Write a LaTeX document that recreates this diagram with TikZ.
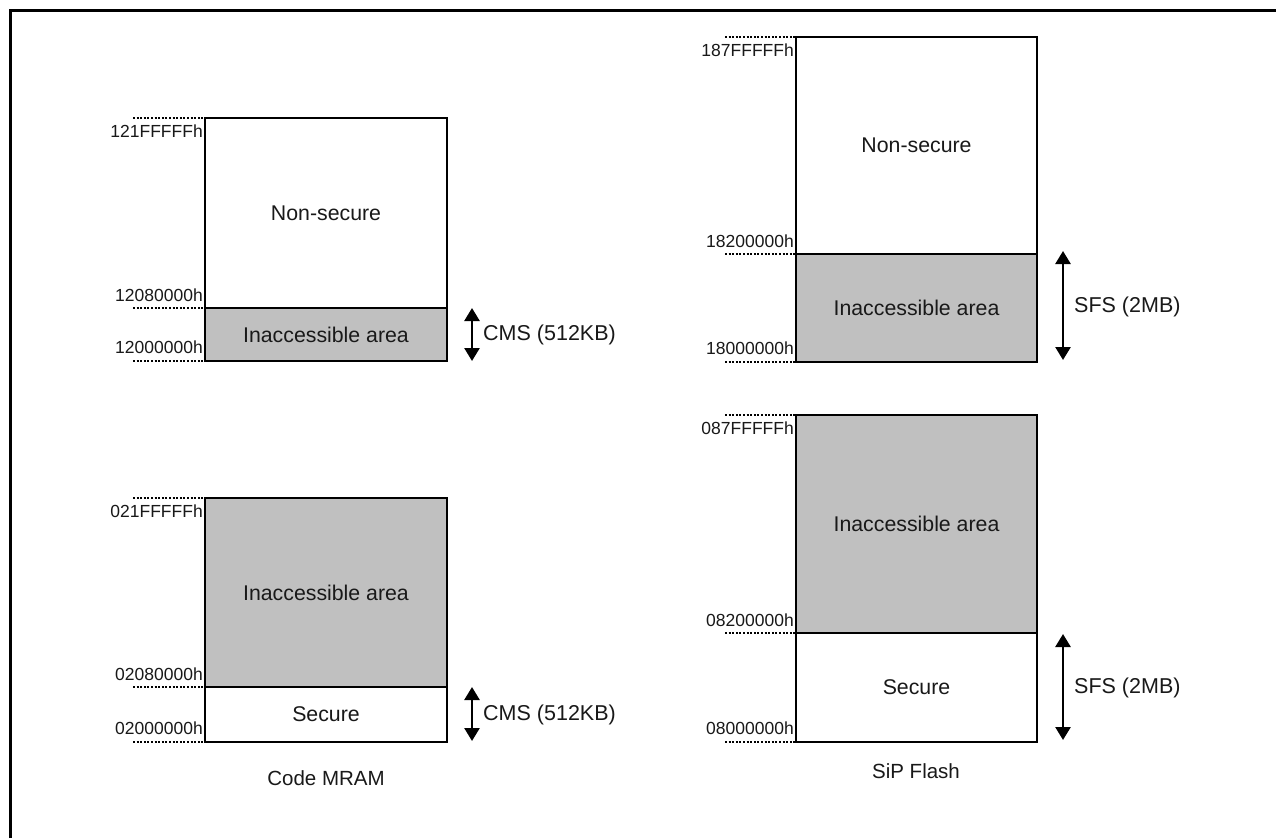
\documentclass[tikz,border=0pt]{standalone}
\usepackage{fontspec}
\setmainfont{Liberation Sans}
\usetikzlibrary{arrows.meta}

\definecolor{areagray}{RGB}{192,192,192}

\tikzset{
  region/.style={draw=black, line width=2.8pt, rectangle, inner sep=0pt, outer sep=0pt,
                 anchor=north west, font=\fontsize{21.3}{25}\selectfont, text=black!90},
  blocked/.style={region, fill=areagray},
  open/.style={region, fill=white},
  addrline/.style={line width=2.6pt, dash pattern=on 2pt off 1.6pt, black},
  addr/.style={inner sep=0pt, font=\fontsize{17.5}{20}\selectfont, text=black!90},
  span/.style={line width=2.6pt, {Triangle[width=15pt,length=13pt]}-{Triangle[width=15pt,length=13pt]}},
  spanlabel/.style={inner sep=0pt, anchor=west, font=\fontsize{21.5}{25}\selectfont, text=black!90},
  caption/.style={inner sep=0pt, font=\fontsize{20.5}{24}\selectfont, text=black!90}
}

\begin{document}
\begin{tikzpicture}[x=1pt, y=-1pt]
\useasboundingbox (0,0) rectangle (1276,838);
\fill[white] (0,0) rectangle (1276,838);

% page frame (left and top edges)
\draw[line width=3pt] (10,838) -- (10,10) -- (1276,10);

% ---------------- Code MRAM, upper window ----------------
\node[open, minimum width=242pt, minimum height=190pt] (nsA) at (205,118) {Non-secure};
\node[blocked, minimum width=242pt, minimum height=53pt] (iaA) at (205,308) {Inaccessible area};
\draw[addrline] (133,118) -- (nsA.north west);
\draw[addrline] (133,308) -- (iaA.north west);
\draw[addrline] (133,361) -- (iaA.south west);
\node[addr, anchor=base east] (a1) at (203,137) {121FFFFFh};
\node[addr, anchor=base east] (a2) at (203,301) {12080000h};
\node[addr, anchor=base east] (a3) at (203,353) {12000000h};
\coordinate (cA1) at (472,308);
\coordinate (cA2) at (472,361);
\draw[span] (cA1) -- (cA2);
\node[spanlabel] (lA) at (483,335) {CMS (512KB)};

% ---------------- Code MRAM, lower window ----------------
\node[blocked, minimum width=242pt, minimum height=189pt] (iaB) at (205,498) {Inaccessible area};
\node[open, minimum width=242pt, minimum height=55pt] (secB) at (205,687) {Secure};
\draw[addrline] (133,498) -- (iaB.north west);
\draw[addrline] (133,687) -- (secB.north west);
\draw[addrline] (133,742) -- (secB.south west);
\node[addr, anchor=base east] (b1) at (203,517) {021FFFFFh};
\node[addr, anchor=base east] (b2) at (203,680) {02080000h};
\node[addr, anchor=base east] (b3) at (203,734) {02000000h};
\coordinate (cB1) at (472,687);
\coordinate (cB2) at (472,741);
\draw[span] (cB1) -- (cB2);
\node[spanlabel] (lB) at (483,715) {CMS (512KB)};
\node[caption] (capL) at (326,778) {Code MRAM};

% ---------------- SiP Flash, upper window ----------------
\node[open, minimum width=241pt, minimum height=217pt] (nsC) at (796,37) {Non-secure};
\node[blocked, minimum width=241pt, minimum height=108pt] (iaC) at (796,254) {Inaccessible area};
\draw[addrline] (725,37) -- (nsC.north west);
\draw[addrline] (725,254) -- (iaC.north west);
\draw[addrline] (725,362) -- (iaC.south west);
\node[addr, anchor=base east] (c1) at (794,56) {187FFFFFh};
\node[addr, anchor=base east] (c2) at (794,247) {18200000h};
\node[addr, anchor=base east] (c3) at (794,354) {18000000h};
\coordinate (cC1) at (1063,251);
\coordinate (cC2) at (1063,360);
\draw[span] (cC1) -- (cC2);
\node[spanlabel] (lC) at (1074,307) {SFS (2MB)};

% ---------------- SiP Flash, lower window ----------------
\node[blocked, minimum width=241pt, minimum height=218pt] (iaD) at (796,415) {Inaccessible area};
\node[open, minimum width=241pt, minimum height=109pt] (secD) at (796,633) {Secure};
\draw[addrline] (725,415) -- (iaD.north west);
\draw[addrline] (725,633) -- (secD.north west);
\draw[addrline] (725,742) -- (secD.south west);
\node[addr, anchor=base east] (d1) at (794,434) {087FFFFFh};
\node[addr, anchor=base east] (d2) at (794,626) {08200000h};
\node[addr, anchor=base east] (d3) at (794,734) {08000000h};
\coordinate (cD1) at (1063,634);
\coordinate (cD2) at (1063,740);
\draw[span] (cD1) -- (cD2);
\node[spanlabel] (lD) at (1074,688) {SFS (2MB)};
\node[caption] (capR) at (916,771) {SiP Flash};
\end{tikzpicture}
\end{document}
